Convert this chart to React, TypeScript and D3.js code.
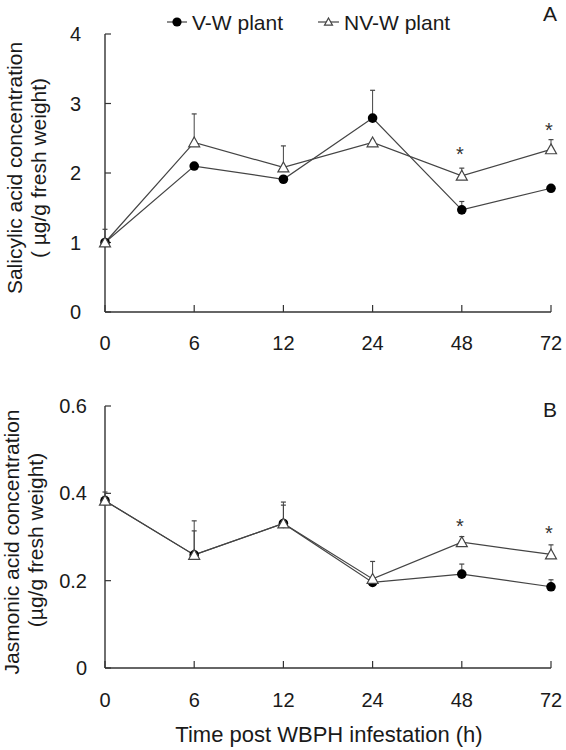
import React from "react";
import * as d3 from "d3";

const times = ["0", "6", "12", "24", "48", "72"];

// Panel A: salicylic acid
const saVW = [1.0, 2.1, 1.91, 2.79, 1.47, 1.78];
const saVWErr = [0.0, 0.0, 0.0, 0.4, 0.12, 0.03];
const saNVW = [1.0, 2.44, 2.08, 2.44, 1.96, 2.34];
const saNVWErr = [0.19, 0.41, 0.31, 0.03, 0.11, 0.14];
const saStars = [false, false, false, false, true, true];
const saTicks = [0, 1, 2, 3, 4];

// Panel B: jasmonic acid
const jaVW = [0.383, 0.259, 0.331, 0.196, 0.215, 0.186];
const jaVWErr = [0.01, 0.055, 0.042, 0.0, 0.023, 0.016];
const jaNVW = [0.383, 0.259, 0.331, 0.204, 0.288, 0.26];
const jaNVWErr = [0.02, 0.078, 0.049, 0.04, 0.013, 0.022];
const jaStars = [false, false, false, false, true, true];
const jaTicks = [0, 0.2, 0.4, 0.6];

const FONT = "'Liberation Sans', Arial, sans-serif";
const LINE = "#444";
const AXIS = "#333";
const TEXT = "#1a1a1a";

const x = d3.scalePoint<string>().domain(times).range([105, 551]);

function Triangle({ cx, cy, s = 5.5 }: { cx: number; cy: number; s?: number }) {
  const p = `M${cx},${cy - s} L${cx + s},${cy + s * 0.8} L${cx - s},${cy + s * 0.8} Z`;
  return <path d={p} fill="#fff" stroke={LINE} strokeWidth={1.2} />;
}

function Panel({
  y0, y1, domainMax, ticks, fmt, vw, vwErr, nvw, nvwErr, stars, starOffsets, letter, letterY,
  label1, label2, labelX1, labelX2, labelCenter1, labelCenter2, tickLabelRight, xLabelOffset,
}: any) {
  const y = d3.scaleLinear().domain([0, domainMax]).range([y0, y1]);
  const line = d3.line<number>().x((_, i) => x(times[i])!).y((d) => y(d));
  const capW = 2.5;
  return (
    <g>
      {/* axes */}
      <line x1={105} x2={105} y1={y1} y2={y0} stroke={AXIS} strokeWidth={1.4} />
      <line x1={105} x2={551} y1={y0} y2={y0} stroke={AXIS} strokeWidth={1.4} />
      {ticks.map((t: number) => (
        <g key={t}>
          <line x1={105} x2={111} y1={y(t)} y2={y(t)} stroke={AXIS} strokeWidth={1.2} />
          <text x={tickLabelRight} y={y(t) + 7} textAnchor="end" fontSize={20} fontFamily={FONT} fill={TEXT}>
            {fmt(t)}
          </text>
        </g>
      ))}
      {times.map((t) => (
        <g key={t}>
          <line x1={x(t)} x2={x(t)} y1={y0} y2={y0 - 7} stroke={AXIS} strokeWidth={1.2} />
          <text x={x(t)} y={y0 + xLabelOffset} textAnchor="middle" fontSize={20} fontFamily={FONT} fill={TEXT}>
            {t}
          </text>
        </g>
      ))}
      {/* y labels */}
      <text transform={`translate(${labelX1},${labelCenter1}) rotate(-90)`} textAnchor="middle" fontSize={21} fontFamily={FONT} fill={TEXT}>
        {label1}
      </text>
      <text transform={`translate(${labelX2},${labelCenter2}) rotate(-90)`} textAnchor="middle" fontSize={21} fontFamily={FONT} fill={TEXT}>
        {label2}
      </text>
      {/* error bars */}
      {[
        [vw, vwErr],
        [nvw, nvwErr],
      ].map(([vals, errs]: any, si: number) =>
        vals.map((v: number, i: number) =>
          errs[i] > 0 ? (
            <g key={`${si}-${i}`}>
              <line x1={x(times[i])} x2={x(times[i])} y1={y(v)} y2={y(v + errs[i])} stroke={LINE} strokeWidth={1} />
              <line x1={x(times[i])! - capW} x2={x(times[i])! + capW} y1={y(v + errs[i])} y2={y(v + errs[i])} stroke={LINE} strokeWidth={1.2} />
            </g>
          ) : null
        )
      )}
      {/* lines */}
      <path d={line(vw)!} fill="none" stroke={LINE} strokeWidth={1.2} />
      <path d={line(nvw)!} fill="none" stroke={LINE} strokeWidth={1.2} />
      {/* markers */}
      {vw.map((v: number, i: number) => (
        <circle key={`c${i}`} cx={x(times[i])} cy={y(v)} r={4.8} fill="#000" />
      ))}
      {nvw.map((v: number, i: number) => (
        <Triangle key={`t${i}`} cx={x(times[i])!} cy={y(v)} />
      ))}
      {/* stars */}
      {stars.map((s: boolean, i: number) =>
        s ? (
          <text key={`s${i}`} x={x(times[i])! - 2} y={y(nvw[i] + nvwErr[i]) - starOffsets[i]} textAnchor="middle" fontSize={20} fontFamily={FONT} fill="#333">
            *
          </text>
        ) : null
      )}
      <text x={550} y={letterY} textAnchor="middle" fontSize={21} fontFamily={FONT} fill={TEXT}>
        {letter}
      </text>
    </g>
  );
}

export default function App() {
  return (
    <svg width={566} height={750} style={{ position: "absolute", left: 0, top: 0, background: "#fff" }}>
      <rect width={566} height={750} fill="#fff" />
      {/* legend */}
      <g>
        <line x1={167} x2={187} y1={22} y2={22} stroke={LINE} strokeWidth={1.2} />
        <circle cx={177} cy={22} r={4.6} fill="#000" />
        <text x={192} y={29.5} fontSize={21} fontFamily={FONT} fill={TEXT}>V-W plant</text>
        <line x1={318} x2={339} y1={22} y2={22} stroke={LINE} strokeWidth={1.2} />
        <Triangle cx={328.5} cy={22} s={4} />
        <text x={344} y={29.5} fontSize={21} fontFamily={FONT} fill={TEXT}>NV-W plant</text>
      </g>
      <Panel
        y0={312}
        y1={34}
        domainMax={4}
        ticks={saTicks}
        fmt={(t: number) => String(t)}
        vw={saVW}
        vwErr={saVWErr}
        nvw={saNVW}
        nvwErr={saNVWErr}
        stars={saStars}
        starOffsets={[0, 0, 0, 0, 7, 3]}
        letter="A"
        letterY={21}
        label1="Salicylic acid concentration"
        label2="( µg/g fresh weight)"
        labelX1={21.5}
        labelX2={46}
        labelCenter1={168}
        labelCenter2={168}
        tickLabelRight={81}
        xLabelOffset={38}
      />
      <Panel
        y0={668}
        y1={406}
        domainMax={0.6}
        ticks={jaTicks}
        fmt={(t: number) => (t === 0 ? "0" : t.toFixed(1))}
        vw={jaVW}
        vwErr={jaVWErr}
        nvw={jaNVW}
        nvwErr={jaNVWErr}
        stars={jaStars}
        starOffsets={[0, 0, 0, 0, 4, 5]}
        letter="B"
        letterY={417}
        label1="Jasmonic acid concentration"
        label2="(µg/g fresh weight)"
        labelX1={19}
        labelX2={43}
        labelCenter1={542}
        labelCenter2={540}
        tickLabelRight={87}
        xLabelOffset={39}
      />
      <text x={329} y={742} textAnchor="middle" fontSize={22} fontFamily={FONT} fill={TEXT}>
        Time post WBPH infestation (h)
      </text>
    </svg>
  );
}
